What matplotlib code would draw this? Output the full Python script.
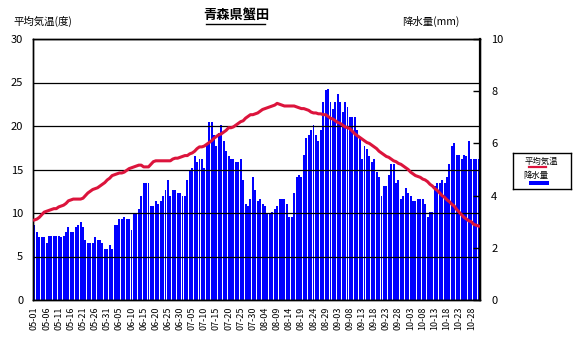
import numpy as np
import matplotlib.pyplot as plt
from matplotlib.lines import Line2D
from matplotlib.patches import Rectangle

plt.rcParams['font.family'] = ['Noto Sans CJK JP', 'DejaVu Sans']

title = '青森県蟹田'
left_label = '平均気温(度)'
right_label = '降水量(mm)'
legend_labels = ['平均気温', '降水量']

# one label every 5 days, May 1 .. Oct 28
date_labels = ['05-01', '05-06', '05-11', '05-16', '05-21', '05-26', '05-31',
               '06-05', '06-10', '06-15', '06-20', '06-25', '06-30',
               '07-05', '07-10', '07-15', '07-20', '07-25', '07-30',
               '08-04', '08-09', '08-14', '08-19', '08-24', '08-29',
               '09-03', '09-08', '09-13', '09-18', '09-23', '09-28',
               '10-03', '10-08', '10-13', '10-18', '10-23', '10-28']

# daily mean temperature (deg C), May 1 .. Oct 31
temp = [9.2, 9.3, 9.5, 9.8, 10.1, 10.2, 10.3, 10.4, 10.5, 10.5,
        10.7, 10.8, 10.9, 11.1, 11.4, 11.5, 11.6, 11.6, 11.6, 11.6,
        11.7, 12.0, 12.3, 12.5, 12.7, 12.8, 12.9, 13.1, 13.3, 13.5,
        13.8, 14.0, 14.3, 14.4, 14.5, 14.6, 14.6, 14.7, 14.9, 15.1,
        15.2, 15.3, 15.4, 15.5, 15.5, 15.3, 15.3, 15.3, 15.6, 15.9,
        16.0, 16.0, 16.0, 16.0, 16.0, 16.0, 16.0, 16.2, 16.3, 16.3,
        16.4, 16.5, 16.6, 16.6, 16.8, 16.9, 17.1, 17.4, 17.6, 17.6,
        17.7, 17.9, 18.1, 18.3, 18.6, 18.8, 19.0, 19.1, 19.3, 19.5,
        19.8, 19.8, 19.9, 20.1, 20.3, 20.5, 20.6, 20.9, 21.1, 21.3,
        21.3, 21.4, 21.5, 21.7, 21.9, 22.0, 22.1, 22.2, 22.3, 22.4,
        22.6, 22.5, 22.4, 22.3, 22.3, 22.3, 22.3, 22.3, 22.2, 22.1,
        22.0, 22.0, 21.9, 21.8, 21.6, 21.5, 21.5, 21.4, 21.4, 21.3,
        21.3, 21.1, 20.9, 20.8, 20.6, 20.4, 20.3, 20.1, 19.9, 19.8,
        19.7, 19.4, 19.1, 18.9, 18.7, 18.5, 18.3, 18.1, 18.0, 17.8,
        17.6, 17.4, 17.1, 16.9, 16.7, 16.5, 16.4, 16.2, 16.0, 15.9,
        15.7, 15.6, 15.4, 15.2, 15.0, 14.7, 14.5, 14.3, 14.2, 14.1,
        13.9, 13.8, 13.6, 13.3, 13.1, 12.8, 12.6, 12.3, 12.0, 11.8,
        11.5, 11.3, 11.0, 10.8, 10.4, 10.1, 9.8, 9.5, 9.3, 9.1,
        9.0, 8.7, 8.6, 8.5]

# daily precipitation (mm), May 1 .. Oct 31
rain = [2.87, 2.60, 2.40, 2.40, 2.40, 2.17, 2.47, 2.47, 2.47, 2.47,
        2.47, 2.40, 2.47, 2.60, 2.80, 2.60, 2.60, 2.80, 2.87, 3.00,
        2.80, 2.30, 2.17, 2.17, 2.17, 2.40, 2.30, 2.30, 2.17, 1.97,
        1.97, 2.10, 1.97, 2.87, 2.87, 3.10, 3.10, 3.17, 3.10, 3.10,
        2.67, 3.33, 3.33, 3.50, 4.00, 4.50, 4.50, 4.50, 3.60, 3.60,
        3.80, 3.67, 3.80, 4.00, 4.20, 4.60, 4.00, 4.20, 4.20, 4.10,
        4.10, 4.00, 4.00, 4.60, 5.00, 5.07, 5.50, 5.30, 5.40, 5.40,
        5.07, 6.00, 6.83, 6.83, 6.33, 5.90, 6.40, 6.70, 6.10, 5.70,
        5.50, 5.40, 5.40, 5.30, 5.30, 5.40, 4.60, 3.67, 3.60, 3.87,
        4.70, 4.20, 3.80, 3.87, 3.67, 3.60, 3.33, 3.33, 3.37, 3.50,
        3.60, 3.87, 3.87, 3.87, 3.67, 3.17, 3.17, 4.10, 4.70, 4.80,
        4.70, 5.57, 6.20, 6.33, 6.50, 6.70, 6.33, 6.10, 6.50, 7.60,
        8.03, 8.10, 7.60, 7.33, 7.60, 7.90, 7.60, 7.20, 7.60, 7.40,
        7.00, 7.00, 7.00, 6.50, 6.20, 5.40, 5.90, 5.80, 5.50, 5.30,
        5.40, 4.90, 4.70, 4.00, 4.37, 4.37, 4.80, 5.20, 5.20, 4.50,
        4.60, 3.87, 4.00, 4.30, 4.10, 4.00, 3.80, 3.80, 3.87, 3.87,
        3.87, 3.67, 3.17, 3.37, 3.37, 4.37, 4.50, 4.50, 4.60, 4.50,
        4.70, 5.20, 5.90, 6.00, 5.57, 5.57, 5.40, 5.57, 5.50, 6.10,
        5.40, 5.40, 5.40, 5.40]

W, H = 574, 339
x = np.arange(len(temp))

fig = plt.figure(figsize=(W / 100, H / 100), dpi=100)
ax = fig.add_axes([33 / W, 39 / H, 447 / W, 261 / H])
ax2 = ax.twinx()

# precipitation bars on the right axis
ax2.bar(x, rain, width=0.8, color='#0000ff', linewidth=0)
ax2.set_ylim(0, 10)
ax2.set_yticks(range(0, 11, 2))
ax2.tick_params(axis='y', direction='in', length=5, width=1, pad=8,
                labelsize=8)

# temperature line on the left axis, drawn above the bars
ax.set_zorder(ax2.get_zorder() + 1)
ax.patch.set_visible(False)
ax.plot(x, temp, color='#dc143c', lw=2.2, zorder=3)
ax.set_ylim(0, 30)
ax.set_xlim(-0.6, len(temp) - 0.4)
ax.set_yticks(range(0, 31, 5))
ax.yaxis.grid(True, color='black', lw=0.9)
ax.tick_params(axis='y', length=0, pad=7, labelsize=8)
ax.set_xticks(x[::5])
ax.set_xticklabels(date_labels, rotation=90, fontsize=6.5)
ax.tick_params(axis='x', length=0, pad=5)

for a in (ax, ax2):
    for s in a.spines.values():
        s.set_color('black')
        s.set_linewidth(1)
ax2.spines['right'].set_linewidth(1.6)

# titles
fig.text(236 / W, 1 - 16 / H, title, ha='center', va='center',
         fontsize=9.5, fontweight='bold')
fig.add_artist(Line2D([206 / W, 265 / W], [1 - 24 / H, 1 - 24 / H],
                      color='black', lw=1))
fig.text(13 / W, 1 - 21 / H, left_label, ha='left', va='center', fontsize=7.5)
fig.text(402 / W, 1 - 21 / H, right_label, ha='left', va='center',
         fontsize=7.5)

# legend box
lg = fig.add_axes([513 / W, 1 - 189 / H, 58 / W, 36 / H])
lg.set_xlim(0, 58)
lg.set_ylim(36, 0)
lg.set_xticks([])
lg.set_yticks([])
for s in lg.spines.values():
    s.set_linewidth(1)
lg.text(28, 8, legend_labels[0], ha='center', va='center', fontsize=6)
lg.plot([16, 33], [14, 14], color='#dc143c', lw=1.6)
lg.text(23, 22.5, legend_labels[1], ha='center', va='center', fontsize=6)
lg.add_patch(Rectangle((16, 28), 20, 4, color='#0000ff', lw=0))

fig.savefig('out.png', dpi=100)
